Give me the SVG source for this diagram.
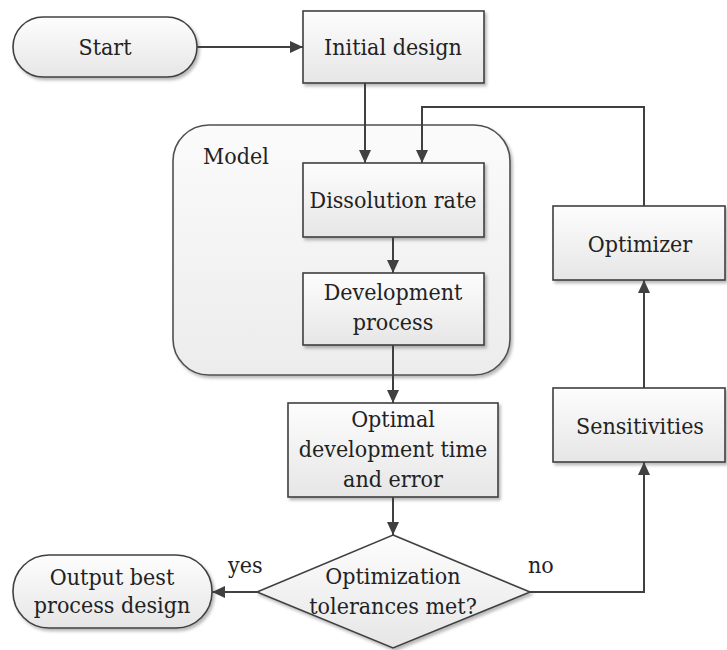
<svg xmlns="http://www.w3.org/2000/svg" width="727" height="650" viewBox="0 0 727 650">
<defs>
<linearGradient id="g" x1="0" y1="0" x2="0" y2="1">
<stop offset="0" stop-color="#fdfdfd"/>
<stop offset="1" stop-color="#e6e6e6"/>
</linearGradient>
<linearGradient id="gm" x1="0" y1="0" x2="0" y2="1">
<stop offset="0" stop-color="#fbfbfb"/>
<stop offset="1" stop-color="#ececec"/>
</linearGradient>
<filter id="sh" x="-10%" y="-10%" width="125%" height="130%">
<feDropShadow dx="2" dy="2.5" stdDeviation="1.5" flood-color="#000" flood-opacity="0.28"/>
</filter>
<marker id="ah" markerWidth="14" markerHeight="12" refX="13" refY="6" orient="auto" markerUnits="userSpaceOnUse">
<path d="M0,0 L13,6 L0,12 Z" fill="#404040"/>
</marker>
</defs>
<style>
.s{fill:url(#g);stroke:#404040;stroke-width:1.6;filter:url(#sh)}
.m{fill:url(#gm);stroke:#505050;stroke-width:1.6;filter:url(#sh)}
text{font-family:"DejaVu Serif",serif;font-stretch:condensed;font-size:23px;fill:#222}
.t{text-anchor:middle}
.c{fill:none;stroke:#404040;stroke-width:2;marker-end:url(#ah)}
</style>
<rect width="727" height="650" fill="#fff"/>
<g id="model">
<rect class="m" x="173" y="125" width="337" height="250" rx="36" ry="36"/>
<text x="203" y="164">Model</text>
</g>
<g id="start">
<rect class="s" x="13" y="17" width="184" height="60" rx="30" ry="30"/>
<text class="t" x="105" y="55">Start</text>
</g>
<g id="initial">
<rect class="s" x="303" y="11" width="181" height="72"/>
<text class="t" x="393" y="55">Initial design</text>
</g>
<g id="dissolution">
<rect class="s" x="303" y="163" width="181" height="74"/>
<text class="t" x="393" y="208">Dissolution rate</text>
</g>
<g id="development">
<rect class="s" x="303" y="273" width="181" height="72"/>
<text class="t" x="393" y="300">Development</text>
<text class="t" x="393" y="330">process</text>
</g>
<g id="optimal">
<rect class="s" x="288" y="403" width="210" height="94"/>
<text class="t" x="393" y="427">Optimal</text>
<text class="t" x="393" y="457">development time</text>
<text class="t" x="393" y="487">and error</text>
</g>
<g id="decision">
<polygon class="s" points="393,535 530,592 393,648 257,592"/>
<text class="t" x="393" y="584">Optimization</text>
<text class="t" x="393" y="614">tolerances met?</text>
</g>
<g id="output">
<rect class="s" x="13" y="555" width="199" height="73" rx="36" ry="36"/>
<text class="t" x="112" y="585">Output best</text>
<text class="t" x="112" y="613">process design</text>
</g>
<g id="optimizer">
<rect class="s" x="553" y="206" width="172" height="74"/>
<text class="t" x="640" y="252">Optimizer</text>
</g>
<g id="sensitivities">
<rect class="s" x="553" y="388" width="172" height="74"/>
<text class="t" x="640" y="434">Sensitivities</text>
</g>
<g id="connectors">
<path class="c" d="M197,47 H303"/>
<path class="c" d="M365,83 V163"/>
<path class="c" d="M644,206 V107 H422 V163"/>
<path class="c" d="M393,237 V273"/>
<path class="c" d="M393,345 V403"/>
<path class="c" d="M393,497 V535"/>
<path class="c" d="M257,592 H212"/>
<path class="c" d="M530,592 H644 V462"/>
<path class="c" d="M644,388 V280"/>
<text x="228" y="573">yes</text>
<text x="528" y="573">no</text>
</g>
</svg>
